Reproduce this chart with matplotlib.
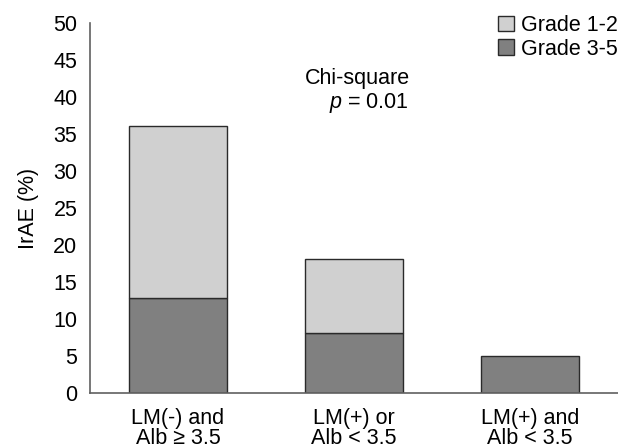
import matplotlib
matplotlib.use("Agg")
import matplotlib.pyplot as plt
from matplotlib.patches import Patch

categories = ["LM(-) and\nAlb \u2265 3.5", "LM(+) or\nAlb < 3.5", "LM(+) and\nAlb < 3.5"]
grade_3_5 = [12.9, 8.1, 5.0]
grade_1_2 = [23.2, 10.0, 0.0]
yticks = [0, 5, 10, 15, 20, 25, 30, 35, 40, 45, 50]

plt.rcParams['font.family'] = ['Liberation Sans', 'DejaVu Sans']
plt.rcParams['mathtext.fontset'] = 'custom'
plt.rcParams['mathtext.it'] = 'Liberation Sans:italic'
plt.rcParams['mathtext.rm'] = 'Liberation Sans'

light = "#D0D0D0"
dark = "#808080"
edge = "#2a2a2a"
fs = 15.5

fig = plt.figure(figsize=(6.18, 4.48), dpi=100)
ax = fig.add_axes([0.1456, 0.1228, 0.8544, 0.8259])

x = list(range(len(categories)))
w = 0.555
ax.bar(x, grade_3_5, width=w, color=dark, edgecolor=edge, linewidth=1.0)
for xi, b, h in zip(x, grade_3_5, grade_1_2):
    if h > 0:
        ax.bar(xi, h, bottom=b, width=w, color=light, edgecolor=edge, linewidth=1.0)

ax.set_xlim(-0.5, 2.5)
ax.set_ylim(0, 50)
ax.set_yticks(yticks)
ax.set_xticks(x)
ax.set_xticklabels(categories, fontsize=fs, linespacing=0.95)
ax.tick_params(axis='both', length=0, labelsize=fs)
ax.tick_params(axis='x', pad=11)
ax.tick_params(axis='y', pad=9)
for s in ['top', 'right']:
    ax.spines[s].set_visible(False)
for s in ['left', 'bottom']:
    ax.spines[s].set_color("#606060")
    ax.spines[s].set_linewidth(1.2)

ax.set_ylabel("IrAE (%)", fontsize=fs, labelpad=10)

ax.text(1.02, 42.5, "Chi-square", fontsize=fs, ha='center', va='center')
ax.text(1.3125, 39.2, "$\\it{p}$ = 0.01", fontsize=fs, ha='right', va='center')

handles = [Patch(facecolor=light, edgecolor=edge, label="Grade 1-2"),
           Patch(facecolor=dark, edgecolor=edge, label="Grade 3-5")]
ax.legend(handles=handles, loc='upper right', bbox_to_anchor=(1.017, 1.045),
          frameon=False, fontsize=fs, handlelength=0.75, handleheight=0.75,
          handletextpad=0.35, labelspacing=0.12, borderaxespad=0)

fig.savefig("out.png", dpi=100)
